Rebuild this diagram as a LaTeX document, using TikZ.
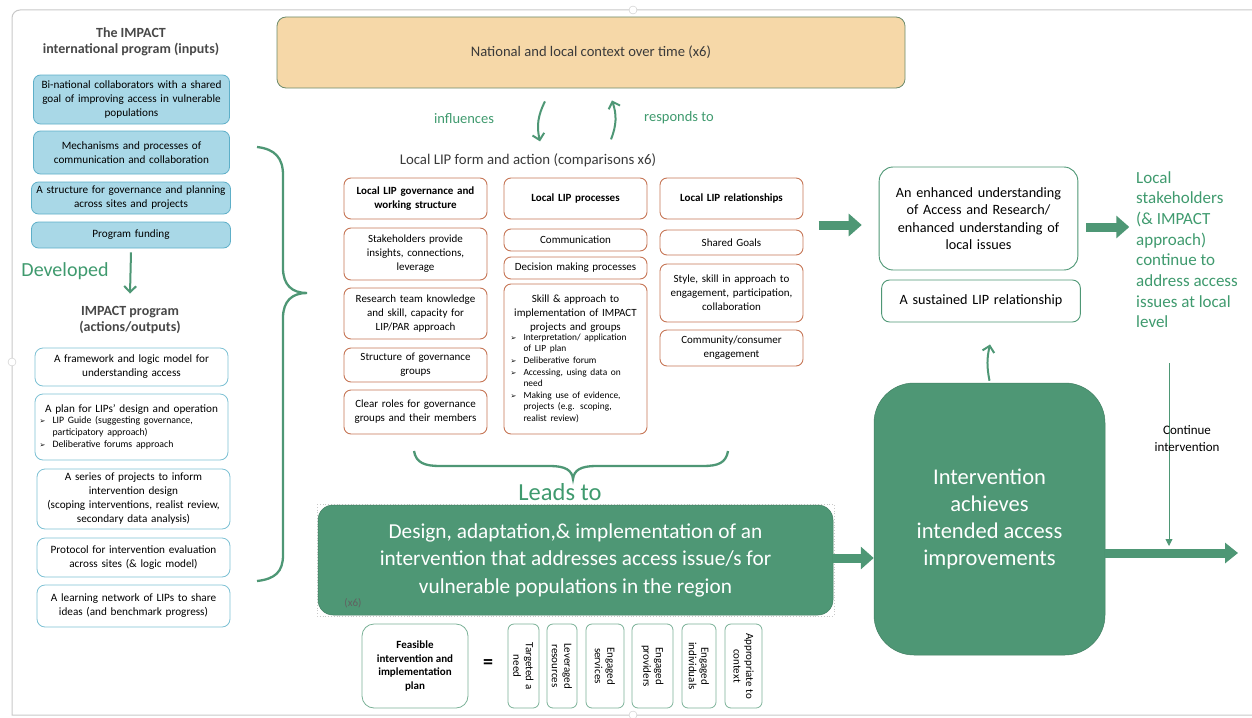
\documentclass[tikz,border=0pt]{standalone}
\usepackage{fontspec}
\setmainfont{Carlito}
\newfontfamily\bulfont{DejaVu Sans}
\usepackage{tikz}
\usetikzlibrary{arrows.meta,decorations.pathreplacing,positioning}
\definecolor{leaf}{HTML}{4E9775}
\definecolor{leaftext}{HTML}{3F9A6E}
\definecolor{inline}{HTML}{5EAFC8}
\definecolor{infill}{HTML}{A9D8E7}
\definecolor{outline}{HTML}{7DC1D4}
\definecolor{lipred}{HTML}{C67656}
\definecolor{tan}{HTML}{F6D8A8}
\definecolor{tanline}{HTML}{6C8B6C}
\definecolor{darktext}{HTML}{3A3A3A}
\definecolor{titlegray}{HTML}{484848}
\definecolor{framegray}{HTML}{C8C8C8}
\tikzstyle{inbox} = [rectangle, draw=inline, fill=infill, rounded corners=7pt,
                     text width=192pt, align=center, inner sep=2pt, line width=0.8pt,
                     font=\fontsize{11.2}{14}\selectfont, minimum width=196]
\tikzstyle{outbox} = [rectangle, draw=outline, fill=white, rounded corners=8pt,
                     text width=190pt, align=center, inner sep=1.5pt, line width=0.8pt,
                     font=\fontsize{11.2}{14}\selectfont, minimum width=193]
\tikzstyle{lipbox} = [rectangle, draw=lipred, fill=white, rounded corners=7pt,
                     text width=141pt, align=center, inner sep=1pt, line width=0.9pt,
                     font=\fontsize{11}{14}\selectfont, minimum width=143]
\tikzstyle{resbox} = [rectangle, draw=leaf, fill=white, rounded corners=14pt,
                     text width=192pt, align=center, line width=0.9pt,
                     font=\fontsize{14.2}{17.3}\selectfont]
\tikzstyle{bigbox} = [rectangle, draw=leaf!85!black, fill=leaf, text=white,
                     align=center, line width=0.5pt]
\tikzstyle{vbox} = [rectangle, draw=leaf!75, fill=white, rounded corners=6pt,
                     rotate=-90, align=center, inner sep=1pt, line width=0.8pt,
                     font=\fontsize{11}{12.5}\selectfont, minimum width=84]
\newcommand{\blt}[1]{\par\hangindent=13pt\hangafter=1\noindent
  \makebox[13pt][l]{\bulfont\fontsize{7}{7}\selectfont\char"27A2}#1}
\begin{document}
\begin{tikzpicture}[x=1pt,y=-1pt,
fatarrow/.style={draw=leaf, line width=9pt, -{Triangle[length=13pt,width=22pt]}},
bentarrow/.style={draw=leaf, line width=2pt, -{Straight Barb[length=6pt,width=12pt]}},
brace/.style={draw=leaf, line width=2.3pt},
greenlabel/.style={text=leaftext, font=\fontsize{14.5}{17}\selectfont},
titlelabel/.style={text=titlegray, align=center, font=\fontsize{14}{16.5}\selectfont\bfseries}]
\useasboundingbox (0,0) rectangle (1252,717);

% Frame
\draw[framegray, line width=1pt] (1252,10) -- (20,10) arc (90:180:8pt) -- (12,715) -- (1252,715);
\draw[framegray, fill=white] (12,362) circle (4pt);
\draw[framegray, fill=white] (633,10) circle (4pt);
\draw[framegray, fill=white] (633,715) circle (4pt);

% Inputs
\node[titlelabel] at (131,42) (intitle){The IMPACT\\international program (inputs)};
\node[inbox, minimum height=49] at (131.5,99.5) (in1){Bi-national collaborators with a shared\\goal of improving access in vulnerable\\populations};
\node[inbox, minimum height=43] at (131.5,152.5) (in2){Mechanisms and processes of\\communication and collaboration};
\node[inbox, minimum height=32, minimum width=199] at (131,198) (in3){A structure for governance and planning\\across sites and projects};
\node[inbox, minimum height=26, minimum width=199] at (131,235) (in4){Program funding};

% Developed
\node[text=leaftext, font=\fontsize{20}{24}\selectfont] at (65,271) (dev){Developed};
\node[titlelabel] at (130,320) (outtitle){IMPACT program\\(actions/outputs)};
\draw[bentarrow] ([yshift=-4pt]in4.south) -- ([yshift=9pt]outtitle.north);

% Outputs
\node[outbox, minimum height=38] at (131.5,367) (out1){A framework and logic model for\\understanding access};
\node[outbox, minimum height=66] at (131.5,427) (out2){A plan for LIPs’ design and operation\\[1pt]
  \parbox{184pt}{\raggedright\fontsize{9.8}{11.8}\selectfont
  \blt{LIP Guide (suggesting governance,\newline participatory approach)}
  \blt{Deliberative forums approach}}};
\node[outbox, minimum height=60] at (133.5,499) (out3){A series of projects to inform\\intervention design\\(scoping interventions, realist review,\\secondary data analysis)};
\node[outbox, minimum height=39] at (133.5,557.5) (out4){Protocol for intervention evaluation\\across sites (\& logic model)};
\node[outbox, minimum height=42] at (133.5,606) (out5){A learning network of LIPs to share\\ideas (and benchmark progress)};

% Big brace
\draw[brace] (257,147) .. controls (275,149) and (283,158) .. (283,175) -- (283,268)
  .. controls (283,285) and (292,293) .. (307,293) .. controls (292,293) and (283,301) .. (283,318)
  -- (283,555) .. controls (283,572) and (275,579) .. (257,581);

% Context
\node[rectangle, draw=tanline, fill=tan, rounded corners=9pt, line width=0.8pt,
      minimum width=628, minimum height=71, text=darktext,
      font=\fontsize{14.6}{17}\selectfont] at (591,52.5) (ctx){National and local context over time (x6)};
\draw[bentarrow] ([xshift=-46pt,yshift=-13pt]ctx.south) to[bend right=20] ([xshift=-51pt,yshift=-53pt]ctx.south);
\draw[bentarrow] ([xshift=20pt,yshift=-51pt]ctx.south) to[bend right=20] ([xshift=21pt,yshift=-12pt]ctx.south);
\node[greenlabel] at (464,119) (infl){influences};
\node[greenlabel] at (679,118) (resp){responds to};

% Local LIP form and action
\node[text=darktext, font=\fontsize{14.8}{17}\selectfont] at (528,160) (form){Local LIP form and action (comparisons x6)};
\node[lipbox, minimum height=41, font=\fontsize{11}{14}\selectfont\bfseries] at (415.5,198.5) (gov1){Local LIP governance and\\working structure};
\node[lipbox, minimum height=52] at (415.5,254) (gov2){Stakeholders provide\\insights, connections,\\leverage};
\node[lipbox, minimum height=51] at (415.5,313.5) (gov3){Research team knowledge\\and skill, capacity for\\LIP/PAR approach};
\node[lipbox, minimum height=34] at (415.5,365) (gov4){Structure of governance\\groups};
\node[lipbox, minimum height=44] at (415.5,412) (gov5){Clear roles for governance\\groups and their members};

\node[lipbox, minimum height=41, font=\fontsize{11}{14}\selectfont\bfseries] at (575.5,198.5) (proc1){Local LIP processes};
\node[lipbox, minimum height=22] at (575.5,240) (proc2){Communication};
\node[lipbox, minimum height=22] at (575.5,268) (proc3){Decision making processes};
\node[lipbox, minimum height=150] at (575.5,359) (proc4){Skill \& approach to\\implementation of IMPACT\\projects and groups\\[0pt]
  \parbox{130pt}{\raggedright\fontsize{9.4}{11.6}\selectfont
  \blt{Interpretation/ application\newline of LIP plan}
  \blt{Deliberative forum}
  \blt{Accessing, using data on\newline need}
  \blt{Making use of evidence,\newline projects (e.g. scoping,\newline realist review)}}};

\node[lipbox, minimum height=41, font=\fontsize{11}{14}\selectfont\bfseries] at (731.5,198.5) (rel1){Local LIP relationships};
\node[lipbox, minimum height=25] at (731.5,242.5) (rel2){Shared Goals};
\node[lipbox, minimum height=58] at (731.5,293) (rel3){Style, skill in approach to\\engagement, participation,\\collaboration};
\node[lipbox, minimum height=36] at (731.5,348) (rel4){Community/consumer\\engagement};

% Outcomes
\node[resbox, minimum width=197, minimum height=103] at (978.5,218.5) (und){An enhanced understanding\\of Access and Research/\\enhanced understanding of\\local issues};
\node[resbox, minimum width=192, minimum height=42, rounded corners=8pt] at (981,301) (sust){A sustained LIP relationship};
\node[text=leaftext, anchor=north west, align=left, inner sep=0pt,
      font=\fontsize{17}{20.7}\selectfont] at (1136,171) (stake){Local\\stakeholders\\(\& IMPACT\\approach)\\continue to\\address access\\issues at local\\level};
\draw[fatarrow] ([xshift=-60pt,yshift=-6.5pt]und.west) -- ([xshift=-17pt,yshift=-6.5pt]und.west);
\draw[fatarrow] ([xshift=8pt,yshift=-8.5pt]und.east) -- ([xshift=51pt,yshift=-8.5pt]und.east);

% Leads to
\draw[brace] (414,451) .. controls (416,463) and (425,466) .. (440,466) -- (550,466)
  .. controls (565,466) and (572,470) .. (573,479) .. controls (574,470) and (581,466) .. (596,466)
  -- (703,466) .. controls (718,466) and (726,463) .. (728,451);
\node[text=leaftext, font=\fontsize{24.5}{28}\selectfont] at (560,492) (leads){Leads to};

% Intervention
\draw[framegray, dotted, line width=0.8pt] (317,504) rectangle (834,616);
\node[bigbox, rounded corners=15pt, minimum width=515, minimum height=110,
      font=\fontsize{21.3}{27.5}\selectfont] at (575.5,560) (design){Design, adaptation,\& implementation of an\\intervention that addresses access issue/s for\\vulnerable populations in the region};
\node[text=darktext!80, font=\fontsize{11}{13}\selectfont] at (353,603) (xsix){(x6)};
\node[bigbox, rounded corners=40pt, minimum width=231, minimum height=272,
      font=\fontsize{22.5}{27}\selectfont] at (989.5,519) (achieve){Intervention\\achieves\\intended access\\improvements};
\draw[fatarrow] (design.east |- 0,558) -- (achieve.west |- 0,558);
\draw[bentarrow] ([yshift=2pt]achieve.north) to[bend left=12] ([xshift=9pt,yshift=-22pt]sust.south);

% Continue
\coordinate (cont top) at (1169,363);
\coordinate (cont end) at (1169,546);
\coordinate (out end) at (1238,553);
\draw[draw=leaf, line width=0.8pt, -{Triangle[length=7pt,width=7pt]}] (cont top) -- (cont end);
\node[align=center, font=\fontsize{13}{17}\selectfont] at (1187,439) (cont){Continue\\intervention};
\draw[fatarrow, -{Triangle[length=13pt,width=20pt]}] (achieve.east |- out end) -- (out end);

% Feasible plan
\node[rectangle, draw=leaf!75, fill=white, rounded corners=12pt, line width=0.8pt,
      minimum width=106, minimum height=84, align=center,
      font=\fontsize{11}{13.5}\selectfont\bfseries] at (415,666) (plan){Feasible\\intervention and\\implementation\\plan};
\node[font=\fontsize{20}{22}\selectfont\bfseries] at (488,664) (eq){=};
\node[vbox, minimum height=31] at (523.5,666) (need){Targeted a\\need};
\node[vbox, minimum height=30] at (562,666) (res){Leveraged\\resources};
\node[vbox, minimum height=38] at (605,666) (serv){Engaged\\services};
\node[vbox, minimum height=41] at (652.5,666) (prov){Engaged\\providers};
\node[vbox, minimum height=34] at (699,666) (indiv){Engaged\\individuals};
\node[vbox, minimum height=37] at (743.5,666) (ctxt){Appropriate to\\context};
\end{tikzpicture}
\end{document}
